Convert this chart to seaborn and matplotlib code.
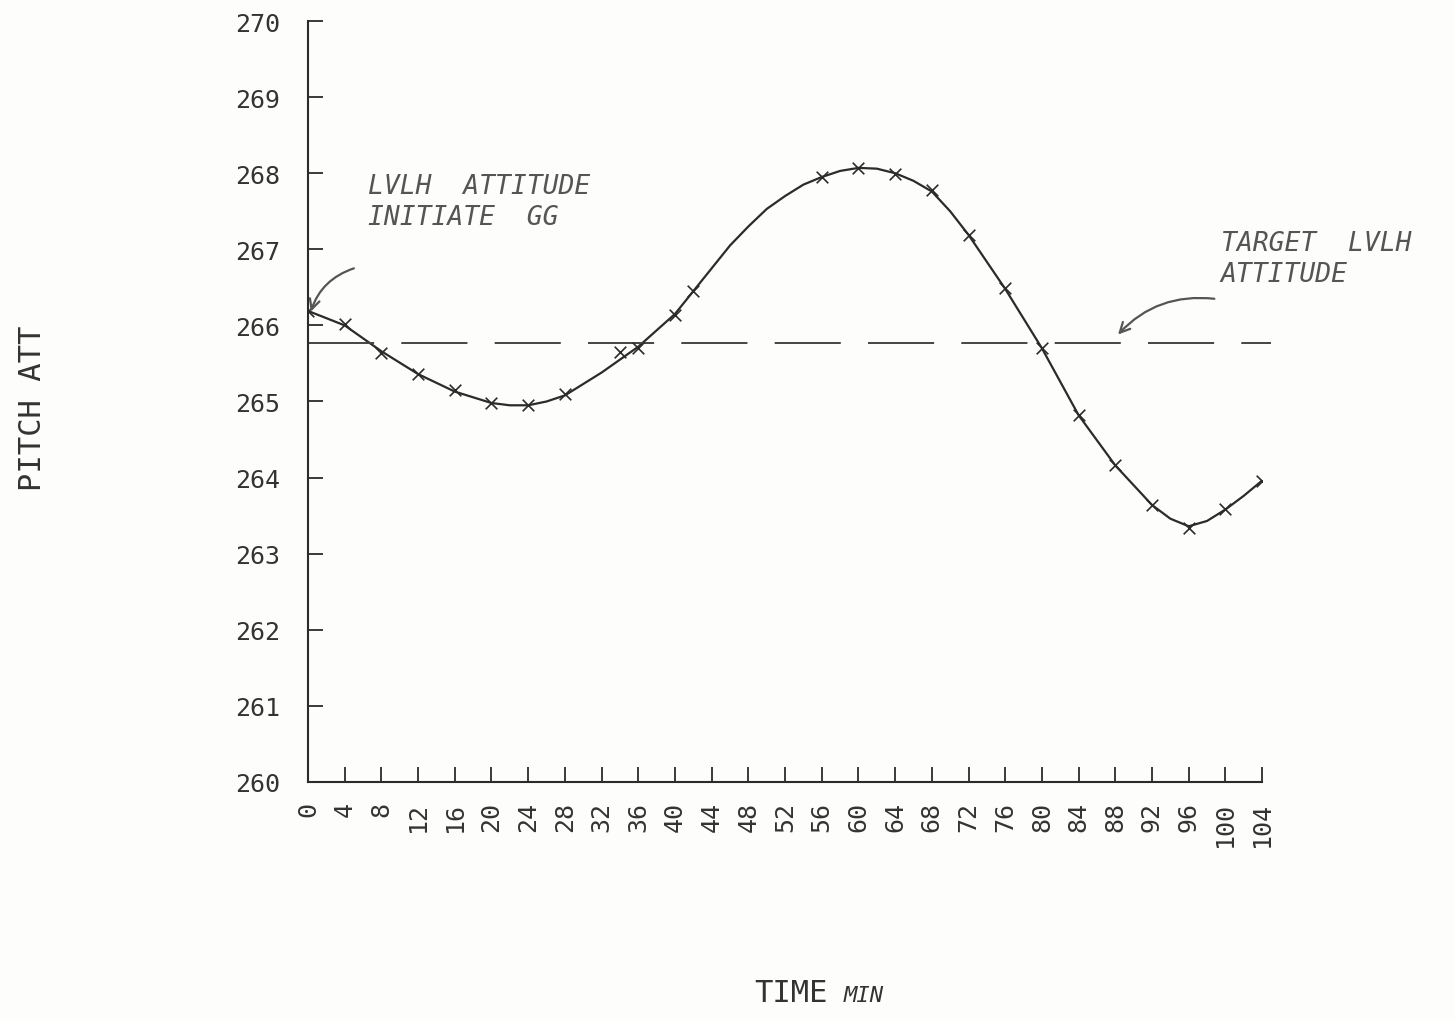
import pandas as pd
import matplotlib.pyplot as plt
import seaborn as sns

sns.set_style("white")
plt.rcParams.update({
    "font.family": ["DejaVu Sans Mono", "DejaVu Sans"],
    "font.size": 18,
    "xtick.labelsize": 18,
    "ytick.labelsize": 18,
})

INK = "#2b2b2b"

# curve
time_min = [0, 4, 8, 12, 16, 20, 22, 24, 26, 28, 32, 36, 40, 44, 46, 48, 50,
            52, 54, 56, 58, 60, 62, 64, 66, 68, 70, 72, 76, 80, 84, 88, 92,
            94, 96, 98, 100, 102, 104]
pitch_att = [266.19, 266.00, 265.66, 265.36, 265.13, 264.98, 264.95, 264.95,
             265.00, 265.08, 265.38, 265.72, 266.15, 266.75, 267.05, 267.30,
             267.53, 267.70, 267.85, 267.95, 268.03, 268.07, 268.06, 268.00,
             267.90, 267.76, 267.50, 267.19, 266.48, 265.70, 264.82, 264.16,
             263.64, 263.46, 263.36, 263.43, 263.58, 263.76, 263.96]

# plotted sample points (x markers)
mark_time = [0, 4, 8, 12, 16, 20, 24, 28, 34, 36, 40, 42, 56, 60, 64,
             68, 72, 76, 80, 84, 88, 92, 96, 100, 104]
mark_att = [266.19, 266.02, 265.64, 265.36, 265.15, 264.98, 264.95, 265.10,
            265.65, 265.70, 266.14, 266.45, 267.95, 268.07, 267.99, 267.78,
            267.19, 266.49, 265.70, 264.82, 264.17, 263.64, 263.34, 263.59,
            263.96]

target_att = 265.77
x_ticks = list(range(0, 105, 4))
y_ticks = list(range(260, 271))

curve = pd.DataFrame({"time": time_min, "att": pitch_att})
marks = pd.DataFrame({"time": mark_time, "att": mark_att})

fig = plt.figure(figsize=(14.55, 10.2), dpi=100, facecolor="#fdfdfb")
ax = fig.add_axes([0.2117, 0.2324, 0.6557, 0.746])
ax.set_facecolor("#fdfdfb")

sns.lineplot(data=curve, x="time", y="att", ax=ax, color=INK, linewidth=1.6)
sns.scatterplot(data=marks, x="time", y="att", ax=ax, marker="x", s=70,
                color=INK, linewidth=1.2, zorder=3)

ax.plot([0, 105], [target_att, target_att], color="#444444", linewidth=1.4,
        dashes=(34, 14), clip_on=False)

ax.set_xlim(0, 104)
ax.set_ylim(260, 270)
ax.set_xticks(x_ticks)
ax.set_xticklabels([str(t) for t in x_ticks], rotation=90)
ax.set_yticks(y_ticks)

for side in ["top", "right"]:
    ax.spines[side].set_visible(False)
for side in ["left", "bottom"]:
    ax.spines[side].set_color(INK)
    ax.spines[side].set_linewidth(1.5)
ax.tick_params(axis="both", direction="in", length=11, width=1.3, color=INK,
               labelcolor="#333333", bottom=True, left=True)
ax.tick_params(axis="x", pad=14)
ax.tick_params(axis="y", pad=20)
ax.grid(False)

ax.set_xlabel("")
ax.set_ylabel("")
fig.text(0.022, 0.60, "PITCH ATT", rotation=90, ha="center", va="center",
         fontsize=22, color="#333333")
fig.text(0.569, 0.012, "TIME", ha="right", va="bottom", fontsize=22,
         color="#333333")
fig.text(0.580, 0.014, "MIN", ha="left", va="bottom", fontsize=16,
         style="italic", color="#333333")

# hand-written notes
note = dict(fontsize=19, style="italic", color="#555555", linespacing=1.25,
            va="bottom")
arrow = dict(arrowstyle="->", color="#555555", lw=1.6, shrinkA=0, shrinkB=0)

ax.text(6.5, 267.25, "LVLH  ATTITUDE\nINITIATE  GG", **note)
ax.annotate("", xy=(0.3, 266.18), xytext=(5.0, 266.75),
            arrowprops=dict(connectionstyle="arc3,rad=0.25", **arrow))
ax.text(99.5, 266.5, "TARGET  LVLH\nATTITUDE", **note)
ax.annotate("", xy=(88.3, 265.88), xytext=(98.8, 266.35),
            arrowprops=dict(connectionstyle="arc3,rad=0.25", **arrow))

fig.savefig("out.png", dpi=100, facecolor=fig.get_facecolor())
